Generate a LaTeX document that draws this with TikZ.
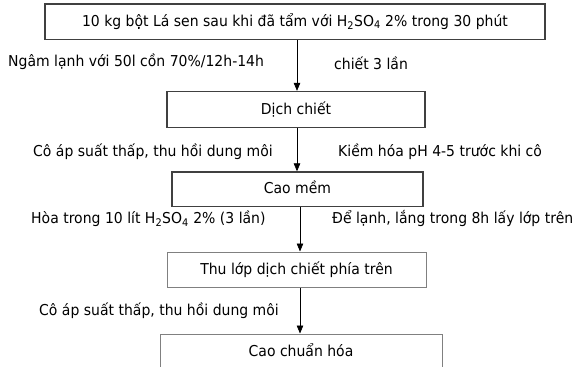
\documentclass[tikz,border=0pt]{standalone}
\usepackage{fontspec}
\setmainfont{DejaVu Sans}[FakeStretch=0.933]
\usetikzlibrary{arrows.meta}

\tikzset{
  txt/.style={font=\fontsize{15}{17}\selectfont},
  boxtxt/.style={txt, inner sep=0pt, text height=12pt, text depth=3pt},
  darkbox/.style={boxtxt, draw=black!75, line width=1.3pt},
  lightbox/.style={boxtxt, draw=black!50, line width=1pt},
  lbl/.style={txt, inner sep=0pt, anchor=base west},
  flow/.style={draw=black, line width=0.7pt, -{Triangle[length=8pt,width=6.5pt]}},
}
\newcommand{\hso}{H\textsubscript{2}SO\textsubscript{4}}

\begin{document}
\begin{tikzpicture}[x=1pt,y=-1pt]
\useasboundingbox (0,0) rectangle (574,367);
\clip (0,0) rectangle (574,367);

% process boxes
\node[darkbox, minimum width=500pt, minimum height=35.5pt] (b1) at (295,21.75)
  {10 kg bột Lá sen sau khi đã tẩm với \hso{} 2\% trong 30 phút};
\node[darkbox, minimum width=258pt, minimum height=36pt] (b2) at (296,109.5) {Dịch chiết};
\node[darkbox, minimum width=251pt, minimum height=34.5pt] (b3) at (297.5,189.25) {Cao mềm};
\node[lightbox, minimum width=259pt, minimum height=35pt] (b4) at (296.5,269.5) {Thu lớp dịch chiết phía trên};
\node[lightbox, minimum width=282pt, minimum height=36pt] (b5) at (301,352) {Cao chuẩn hóa};

% step arrows
\coordinate (xa) at (297,0);
\coordinate (xb) at (300,0);
\draw[flow] (b1.south -| xa) -- (b2.north -| xa);
\draw[flow] (b2.south -| xa) -- (b3.north -| xa);
\draw[flow] (b3.south -| xb) -- (b4.north -| xb);
\draw[flow] (b4.south -| xb) -- (b5.north -| xb);

% step conditions
\node[lbl] (l1) at (8,66) {Ngâm lạnh với 50l cồn 70\%/12h-14h};
\node[lbl] (r1) at (334,69) {chiết 3 lần};
\node[lbl] (l2) at (33,156.5) {Cô áp suất thấp, thu hồi dung môi};
\node[lbl] (r2) at (338,156.5) {Kiềm hóa pH 4-5 trước khi cô};
\node[lbl] (l3) at (31,223.5) {Hòa trong 10 lít \hso{} 2\% (3 lần)};
\node[lbl] (r3) at (332,223.5) {Để lạnh, lắng trong 8h lấy lớp trên};
\node[lbl] (l4) at (39,315.5) {Cô áp suất thấp, thu hồi dung môi};
\end{tikzpicture}
\end{document}
